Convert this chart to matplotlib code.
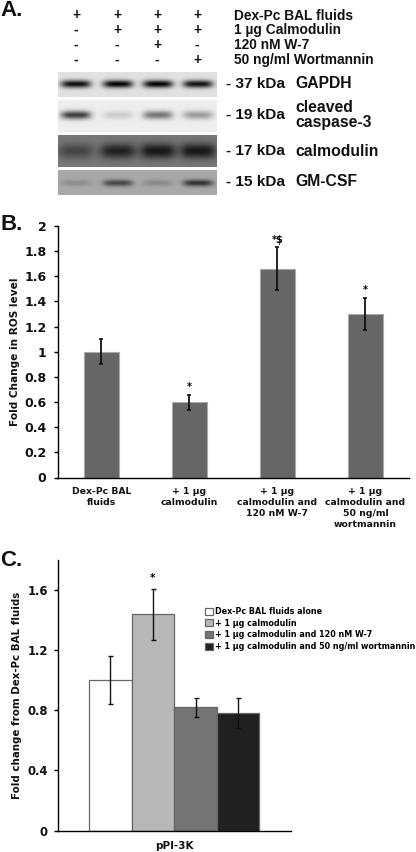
import numpy as np
import matplotlib
matplotlib.use("Agg")
from matplotlib import pyplot as plt

W, H = 416, 852

# panel A: treatment table
treatments = ["Dex-Pc BAL fluids", "1 µg Calmodulin", "120 nM W-7", "50 ng/ml Wortmannin"]
signs = [["+", "+", "+", "+"],
         ["-", "+", "+", "+"],
         ["-", "-", "+", "-"],
         ["-", "-", "-", "+"]]
# panel A: blots, band darkness per lane (0-1)
blot_sizes = ["- 37 kDa", "- 19 kDa", "- 17 kDa", "- 15 kDa"]
blot_names = ["GAPDH", "cleaved\ncaspase-3", "calmodulin", "GM-CSF"]
blot_background = [0.88, 0.93, 0.47, 0.66]
blot_bands = [[0.82, 0.86, 0.86, 0.80],
              [0.68, 0.13, 0.47, 0.32],
              [0.20, 0.34, 0.38, 0.38],
              [0.10, 0.38, 0.12, 0.46]]

# panel B
ros_labels = ["Dex-Pc BAL\nfluids", "+ 1 µg\ncalmodulin", "+ 1 µg\ncalmodulin and\n120 nM W-7",
              "+ 1 µg\ncalmodulin and\n50 ng/ml\nwortmannin"]
ros_values = [1.0, 0.6, 1.66, 1.3]
ros_errors = [0.1, 0.06, 0.17, 0.13]
ros_marks = ["", "*", "*$", "*"]
ros_ticks = [0, 0.2, 0.4, 0.6, 0.8, 1, 1.2, 1.4, 1.6, 1.8, 2]
ros_ticklabels = ["0", "0.2", "0.4", "0.6", "0.8", "1", "1.2", "1.4", "1.6", "1.8", "2"]

# panel C
pi3k_series = ["Dex-Pc BAL fluids alone", "+ 1 µg calmodulin", "+ 1 µg calmodulin and 120 nM W-7",
               "+ 1 µg calmodulin and 50 ng/ml wortmannin"]
pi3k_values = [1.0, 1.44, 0.82, 0.78]
pi3k_errors = [0.16, 0.17, 0.065, 0.10]
pi3k_marks = ["", "*", "", ""]
pi3k_colors = ["#ffffff", "#b8b8b8", "#747474", "#202020"]
pi3k_ticks = [0, 0.4, 0.8, 1.2, 1.6]
pi3k_ticklabels = ["0", "0.4", "0.8", "1.2", "1.6"]


def px_axes(left, top, right, bottom):
    return fig.add_axes([left / W, 1 - bottom / H, (right - left) / W, (bottom - top) / H])


fig = plt.figure(figsize=(W / 100, H / 100), dpi=100)

# overlay in pixel coordinates, for the labels of panel A and the panel letters
page = px_axes(0, 0, W, H)
page.set_xlim(0, W)
page.set_ylim(H, 0)
page.axis("off")
arial = dict(family="Liberation Sans", fontweight="bold", color="#111111")

for s, y in zip(["A.", "B.", "C."], [10, 225, 561]):
    page.text(0, y, s, fontsize=16, va="center", **arial)

lane_x = [76, 117, 157, 197]
row_y = [15.5, 30, 45, 60]
for i in range(4):
    page.text(234, row_y[i], treatments[i], fontsize=9.9, va="center", **arial)
    for j in range(4):
        page.text(lane_x[j], row_y[i], signs[i][j], fontsize=9.9, va="center", ha="center", **arial)

# panel A: blots
blot_pos = [(72, 97), (100, 132), (135, 167), (170, 195)]
band_y = [0.48, 0.47, 0.50, 0.52]
band_h = [3.8, 4.2, 7.5, 3.4]
band_w = [1.0, 1.0, 1.2, 1.0]
lane_edges = [(61, 91), (103, 133), (143, 173), (183, 213)]
text_y = [84, 115, 151, 182]
for k in range(4):
    top, bottom = blot_pos[k]
    ax = px_axes(58, top, 217, bottom)
    xs = np.arange(58, 217) + 0.5
    ys = np.arange(top, bottom) + 0.5
    xx, yy = np.meshgrid(xs, ys)
    img = np.full(xx.shape, blot_background[k])
    cy = top + band_y[k] * (bottom - top)
    for j in range(4):
        a, b = lane_edges[j]
        across = np.exp(-(np.abs(xx - (a + b) / 2) / (band_w[k] * (b - a) / 2)) ** 4)
        down = np.exp(-((yy - cy) / band_h[k]) ** 2)
        img = img - blot_bands[k][j] * across * down
    ax.imshow(np.clip(img, 0, 1), cmap="gray", vmin=0, vmax=1, aspect="auto", interpolation="bilinear")
    ax.axis("off")
    page.text(226, text_y[k], blot_sizes[k], fontsize=11.1, va="center", **arial)
    page.text(295, text_y[k], blot_names[k], fontsize=11.3, va="center", linespacing=0.95, **arial)

plt.rcParams["font.family"] = "DejaVu Sans"
plt.rcParams["font.weight"] = "bold"

# panel B
ax = px_axes(57.5, 226, 408.5, 477.5)
x = np.arange(len(ros_values))
ax.bar(x, ros_values, width=0.4, color="#666666", edgecolor="#aaaaaa", linewidth=0.8,
       yerr=ros_errors, error_kw=dict(ecolor="#111111", elinewidth=1.3, capsize=1.6, capthick=1.2))
for i in range(len(x)):
    if ros_marks[i]:
        ax.annotate(ros_marks[i], (x[i], ros_values[i] + ros_errors[i]), xytext=(0, 2),
                    textcoords="offset points", ha="center", va="bottom", fontsize=7)
ax.set_xlim(-0.5, 3.49)
ax.set_ylim(0, 2)
ax.set_yticks(ros_ticks)
ax.set_yticklabels(ros_ticklabels, fontsize=9, color="#111111")
ax.set_xticks(x)
ax.set_xticklabels(ros_labels, fontsize=6.65, linespacing=1.27, color="#111111")
ax.tick_params(axis="x", length=0, pad=7)
ax.tick_params(axis="y", length=3, width=1, pad=5)
ax.spines[["top", "right"]].set_visible(False)
ax.spines[["left", "bottom"]].set_linewidth(1)
ax.set_ylabel("Fold Change in ROS level", fontsize=7.6, fontweight="bold", labelpad=2, color="#111111")
ax.yaxis.set_label_coords(-0.107, 0.5)

# panel C
ax = px_axes(57.5, 560, 291, 830.5)
offsets = (np.arange(4) - 1.5) * 0.1825
for i in range(4):
    ax.bar(offsets[i], pi3k_values[i], width=0.1825, color=pi3k_colors[i], edgecolor="#666666", linewidth=0.9,
           yerr=pi3k_errors[i], error_kw=dict(ecolor="#111111", elinewidth=1, capsize=1.8, capthick=1),
           label=pi3k_series[i])
    if pi3k_marks[i]:
        ax.annotate(pi3k_marks[i], (offsets[i], pi3k_values[i] + pi3k_errors[i]), xytext=(0, 4),
                    textcoords="offset points", ha="center", va="bottom", fontsize=7.5)
ax.set_xlim(-0.5, 0.5)
ax.set_ylim(0, 1.8)
ax.set_yticks(pi3k_ticks)
ax.set_yticklabels(pi3k_ticklabels, fontsize=8.4, color="#111111")
ax.set_xticks([0])
ax.set_xticklabels(["pPI-3K"], fontsize=7.5, color="#111111")
ax.tick_params(axis="x", length=0, pad=7.5)
ax.tick_params(axis="y", length=3, width=1, pad=4)
ax.spines[["top", "right"]].set_visible(False)
ax.spines[["left", "bottom"]].set_linewidth(1)
ax.set_ylabel("Fold change from Dex-Pc BAL fluids", fontsize=7.4, fontweight="bold", color="#111111")
ax.yaxis.set_label_coords(-0.153, 0.5)
ax.legend(loc="upper left", bbox_to_anchor=(205 / W, 1 - 607 / H), bbox_transform=fig.transFigure,
          frameon=False, fontsize=5.75, borderpad=0, borderaxespad=0, labelspacing=0.33,
          handlelength=1.0, handleheight=1.0, handletextpad=0.3)

fig.savefig("out.png", dpi=100)
